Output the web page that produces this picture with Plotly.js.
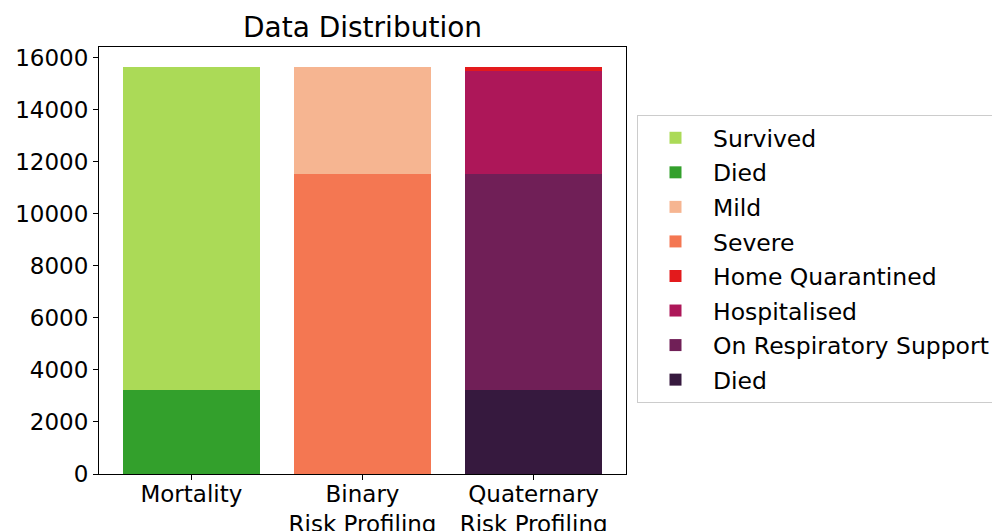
<!DOCTYPE html>
<html>
<head>
<meta charset="utf-8">
<script src="https://cdn.plot.ly/plotly-3.0.1.min.js"></script>
<style>html,body{margin:0;padding:0;background:#fff;}#chart{width:992px;height:531px;}</style>
</head>
<body>
<div id="chart"></div>
<script>
// Data
const categories = ["Mortality", "Binary<br>Risk Profiling", "Quaternary<br>Risk Profiling"];
const mortalityDied = [3230, null, null];
const survived = [12420, null, null];
const severe = [null, 11550, null];
const mild = [null, 4100, null];
const quaternaryDied = [null, null, 3230];
const respiratorySupport = [null, null, 8320];
const hospitalised = [null, null, 3950];
const homeQuarantined = [null, null, 150];
const yTickValues = [0, 2000, 4000, 6000, 8000, 10000, 12000, 14000, 16000];

const series = [
  {name: "Died", y: mortalityDied, color: "#33a02c", rank: 2},
  {name: "Survived", y: survived, color: "#abda57", rank: 1},
  {name: "Severe", y: severe, color: "#f47752", rank: 4},
  {name: "Mild", y: mild, color: "#f6b591", rank: 3},
  {name: "Died", y: quaternaryDied, color: "#36193e", rank: 8},
  {name: "On Respiratory Support", y: respiratorySupport, color: "#701f57", rank: 7},
  {name: "Hospitalised", y: hospitalised, color: "#ad1759", rank: 6},
  {name: "Home Quarantined", y: homeQuarantined, color: "#e31a1c", rank: 5}
];

const traces = series.map((s, i) => ({
  type: "bar",
  x: categories,
  y: s.y,
  name: s.name,
  width: 0.8,
  legendrank: s.rank,
  legendgroup: "g" + i,
  marker: {color: s.color, line: {width: 0}},
  hoverinfo: "skip"
}));

const font = {family: "DejaVu Sans", size: 23, color: "#000"};

const layout = {
  width: 992,
  height: 531,
  margin: {l: 99, r: 366, t: 47, b: 57},
  paper_bgcolor: "#fff",
  plot_bgcolor: "#fff",
  barmode: "stack",
  font: font,
  showlegend: true,
  title: {
    text: "Data Distribution",
    font: {family: "DejaVu Sans", size: 28, color: "#000"},
    x: 0.5, xref: "paper", xanchor: "center",
    y: 1 - 27 / 531, yref: "container", yanchor: "middle"
  },
  xaxis: {
    type: "category",
    categoryorder: "array",
    categoryarray: categories,
    range: [-0.54, 2.54],
    showline: true, linecolor: "#000", linewidth: 1, mirror: true,
    ticks: "outside", ticklen: 5, tickcolor: "#000",
    ticklabelstandoff: -6,
    showgrid: false, zeroline: false,
    tickfont: font
  },
  yaxis: {
    range: [0, 16420],
    tickvals: yTickValues,
    ticktext: yTickValues.map(String),
    showline: true, linecolor: "#000", linewidth: 1, mirror: true,
    ticks: "outside", ticklen: 5, tickcolor: "#000",
    showgrid: false, zeroline: false,
    tickfont: font
  },
  legend: {
    xref: "container", yref: "container",
    x: 637 / 992, xanchor: "left",
    y: 1 - 115 / 531, yanchor: "top",
    maxheight: 400,
    traceorder: "grouped",
    tracegroupgap: 1,
    bgcolor: "#fff",
    bordercolor: "#cccccc",
    borderwidth: 1,
    itemwidth: 65,
    font: {family: "DejaVu Sans", size: 23.5, color: "#000"}
  }
};

Plotly.newPlot("chart", traces, layout, {staticPlot: true, displayModeBar: false});
</script>
</body>
</html>
